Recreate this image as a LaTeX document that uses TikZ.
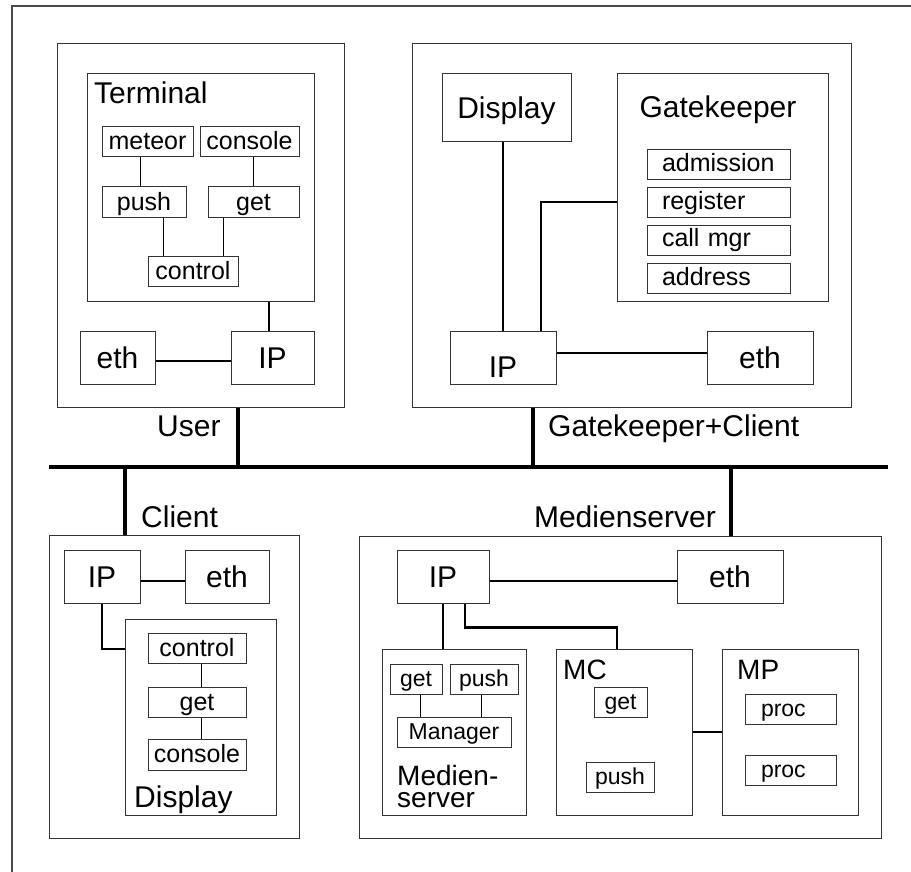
\documentclass[tikz,border=0pt]{standalone}
\usepackage{fontspec}
\setmainfont{Liberation Sans}
\begin{document}
\begin{tikzpicture}[x=1pt, y=-1pt,
    blk/.style={draw=black!80, line width=1pt, inner sep=0pt, text height=22pt, text depth=1pt, font=\fontsize{30}{36}\selectfont},
    subblk/.style={blk, text height=17pt, font=\fontsize{25}{30}\selectfont},
    smallblk/.style={blk, text height=16pt, font=\fontsize{23}{27}\selectfont},
    gkblk/.style={subblk, text height=15pt, minimum width=143pt, minimum height=30pt, text width=113pt, align=left},
    procblk/.style={smallblk, minimum width=91pt, minimum height=30pt, text width=59pt, align=left},
    lbl/.style={inner sep=0pt, font=\fontsize{30}{36}\selectfont},
    midlbl/.style={inner sep=0pt, font=\fontsize{28}{22}\selectfont},
    wire/.style={line width=1pt},
    link/.style={line width=2.2pt},
    busline/.style={line width=4.5pt}]

  % Rahmen
  \useasboundingbox (0,0) rectangle (911,872);
  \draw[black!70, line width=1.5pt] (12,880) -- (12,6) -- (920,6);

  % User
  \node[blk, minimum width=287pt, minimum height=363pt] (user) at (200.5,225.5) {};
  \node[blk, minimum width=227pt, minimum height=227pt] (term) at (200.5,187.5) {};
  \node[lbl, anchor=base west] (termtxt) at (94,104) {Terminal};
  \node[subblk, minimum width=91pt, minimum height=30pt] (umeteor) at (147.5,142) {meteor};
  \node[subblk, minimum width=99pt, minimum height=30pt] (uconsole) at (249.5,142) {console};
  \node[subblk, minimum width=84pt, minimum height=31pt] (upush) at (144,202.5) {push};
  \node[subblk, minimum width=91pt, minimum height=31pt] (uget) at (253.5,202.5) {get};
  \node[subblk, minimum width=90pt, minimum height=30pt] (ucontrol) at (193,271) {control};
  \node[blk, minimum width=75pt, minimum height=53pt] (ueth) at (117.5,357.5) {eth};
  \node[blk, minimum width=83pt, minimum height=53pt] (uip) at (272.5,357.5) {IP};
  \node[lbl, anchor=base west] (usertxt) at (157,436) {User};

  \draw[wire] ([xshift=-7.5pt]umeteor.south) -- ([xshift=-7.5pt]umeteor.south |- upush.north);
  \draw[wire] ([xshift=3.5pt]uconsole.south) -- ([xshift=3.5pt]uconsole.south |- uget.north);
  \draw[wire] ([xshift=19pt]upush.south) -- ([xshift=19pt]upush.south |- ucontrol.north);
  \draw[wire] ([xshift=-30.5pt]uget.south) -- ([xshift=-30.5pt]uget.south |- ucontrol.north);
  \draw[link] ([xshift=-3.5pt]uip.north) -- ([xshift=-3.5pt]uip.north |- term.south);
  \draw[link] ([yshift=-3.5pt]ueth.east) -- ([yshift=-3.5pt]uip.west);

  % Bus
  \coordinate (busl) at (49,467);
  \coordinate (busr) at (888,467);
  \draw[busline] (busl) -- (busr);
  \draw[busline] ([xshift=37.5pt]user.south) -- ([xshift=37.5pt]user.south |- busl);

  % Gatekeeper+Client
  \node[blk, minimum width=439pt, minimum height=363pt] (gc) at (631.5,225.5) {};
  \node[blk, minimum width=129pt, minimum height=68pt] (gdisp) at (506.5,108) {Display};
  \node[blk, minimum width=211pt, minimum height=227pt] (gk) at (722.5,187.5) {};
  \node[lbl, anchor=base] (gktxt) at (718,118) {Gatekeeper};
  \node[gkblk] (gadm) at (718.5,165) {admission};
  \node[gkblk] (greg) at (718.5,202.5) {register};
  \node[gkblk] (gcall) at (718.5,240) {call mgr};
  \node[gkblk] (gaddr) at (718.5,278) {address};
  \node[blk, minimum width=106pt, minimum height=53pt, text height=40pt] (gip) at (503,357.5) {IP};
  \node[blk, minimum width=106pt, minimum height=53pt] (geth) at (760,357.5) {eth};
  \node[lbl, anchor=base west] (gctxt) at (548,436) {Gatekeeper+Client};

  \draw[link] (gip.north) -- (gip.north |- gdisp.south);
  \draw[link] ([yshift=-14.5pt]gk.west) -| ([xshift=38pt]gip.north);
  \draw[link] ([yshift=4.5pt]gip.east) -- ([yshift=4.5pt]geth.west);
  \draw[busline] ([xshift=-98.5pt]gc.south) -- ([xshift=-98.5pt]gc.south |- busl);

  % Client
  \node[blk, minimum width=250pt, minimum height=303pt] (client) at (174,686.5) {};
  \node[lbl, anchor=base west] (clienttxt) at (141,527) {Client};
  \node[blk, minimum width=76pt, minimum height=53pt] (cip) at (102,576.5) {IP};
  \node[blk, minimum width=84pt, minimum height=53pt] (ceth) at (227,576.5) {eth};
  \node[blk, minimum width=151pt, minimum height=196pt] (cdisp) at (200.5,717) {};
  \node[subblk, minimum width=98pt, minimum height=30pt] (ccontrol) at (197,648) {control};
  \node[subblk, minimum width=98pt, minimum height=30pt] (cget) at (197,702) {get};
  \node[subblk, minimum width=98pt, minimum height=31pt] (cconsole) at (197,754.5) {console};
  \node[lbl, anchor=base west] (cdisptxt) at (134,807) {Display};

  \draw[busline] ([xshift=-49pt]client.north) -- ([xshift=-49pt]client.north |- busl);
  \draw[link] ([yshift=-4.5pt]cip.east) -- ([yshift=-4.5pt]ceth.west);
  \draw[link] (cip.south) |- ([yshift=68pt]cdisp.west);
  \draw[wire] ([xshift=4pt]ccontrol.south) -- ([xshift=4pt]cget.north);
  \draw[wire] ([xshift=4pt]cget.south) -- ([xshift=4pt]cconsole.north);

  % Medienserver
  \node[blk, minimum width=522pt, minimum height=302pt] (ms) at (620,687) {};
  \node[lbl, anchor=base east] (mstxt) at (716,527) {Medienserver};
  \node[blk, minimum width=92pt, minimum height=53pt] (mip) at (443,576.5) {IP};
  \node[blk, minimum width=106pt, minimum height=53pt] (meth) at (730,576.5) {eth};
  \node[blk, minimum width=144pt, minimum height=166pt] (mms) at (454,732) {};
  \node[smallblk, minimum width=52pt, minimum height=30pt] (mget) at (416,679) {get};
  \node[smallblk, minimum width=68pt, minimum height=30pt] (mpush) at (484,679) {push};
  \node[smallblk, minimum width=114pt, minimum height=30pt] (mman) at (454,732) {Manager};
  \node[midlbl, anchor=south west, align=left] (mmstxt) at (397,808) {Medien-\\server};
  \node[blk, minimum width=136pt, minimum height=166pt] (mc) at (624,732) {};
  \node[midlbl, anchor=base west] (mctxt) at (563,679) {MC};
  \node[smallblk, minimum width=53pt, minimum height=30pt] (mcget) at (620.5,702) {get};
  \node[smallblk, minimum width=68pt, minimum height=30pt] (mcpush) at (620,777) {push};
  \node[blk, minimum width=136pt, minimum height=166pt] (mp) at (790,732) {};
  \node[midlbl, anchor=base west] (mptxt) at (737,679) {MP};
  \node[procblk] (mproc1) at (790.5,709) {proc};
  \node[procblk] (mproc2) at (790.5,770) {proc};

  \draw[busline] ([xshift=111pt]ms.north) -- ([xshift=111pt]ms.north |- busl);
  \draw[link] ([yshift=-4.5pt]mip.east) -- ([yshift=-4.5pt]meth.west);
  \draw[link] (mip.south) -- (mip.south |- mms.north);
  \draw[link] ([xshift=22pt]mip.south) -- ++(0,24) -| ([xshift=-7pt]mc.north);
  \draw[wire] ([xshift=4pt]mget.south) -- ([xshift=4pt]mget.south |- mman.north);
  \draw[wire] ([xshift=-3pt]mpush.south) -- ([xshift=-3pt]mpush.south |- mman.north);
  \draw[link] (mc.east) -- (mp.west);

\end{tikzpicture}
\end{document}
